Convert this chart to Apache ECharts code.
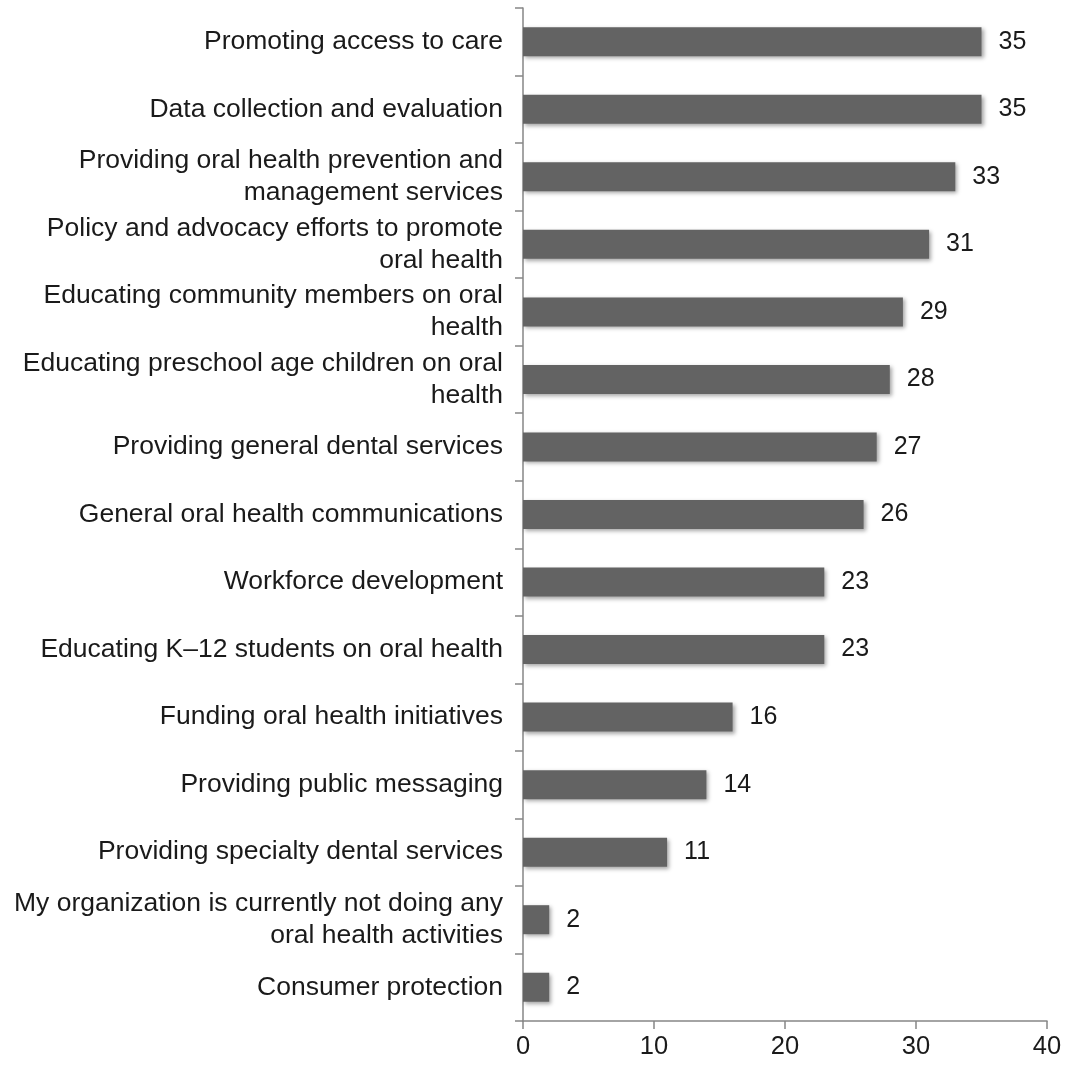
<!DOCTYPE html>
<html>
<head>
<meta charset="utf-8">
<script src="https://cdn.jsdelivr.net/npm/echarts@6/dist/echarts.min.js"></script>
<style>
  html, body { margin: 0; padding: 0; background: #fff; }
  #chart { width: 1067px; height: 1067px; }
</style>
</head>
<body>
<div id="chart"></div>
<script>
// categories, top to bottom
var activities = [
  'Promoting access to care',
  'Data collection and evaluation',
  'Providing oral health prevention and management services',
  'Policy and advocacy efforts to promote oral health',
  'Educating community members on oral health',
  'Educating preschool age children on oral health',
  'Providing general dental services',
  'General oral health communications',
  'Workforce development',
  'Educating K\u201312 students on oral health',
  'Funding oral health initiatives',
  'Providing public messaging',
  'Providing specialty dental services',
  'My organization is currently not doing any oral health activities',
  'Consumer protection'
];
var counts = [35, 35, 33, 31, 29, 28, 27, 26, 23, 23, 16, 14, 11, 2, 2];

var labelFont = '26.5px "Liberation Sans", Arial, sans-serif';
var ctx = document.createElement('canvas').getContext('2d');
ctx.font = labelFont;

// word wrap, no trailing spaces
function wrap(text, maxW) {
  var words = text.split(' ');
  var lines = [];
  var cur = '';
  words.forEach(function (w) {
    var test = cur ? cur + ' ' + w : w;
    if (cur && ctx.measureText(test).width > maxW) {
      lines.push(cur);
      cur = w;
    } else {
      cur = test;
    }
  });
  if (cur) lines.push(cur);
  return lines.join('\n');
}

var myChart = echarts.init(document.getElementById('chart'));
myChart.setOption({
  animation: false,
  textStyle: { fontFamily: '"Liberation Sans", Arial, sans-serif' },
  grid: { left: 523, right: 20, top: 8, bottom: 46, containLabel: false },
  xAxis: {
    type: 'value',
    min: 0,
    max: 40,
    interval: 10,
    splitLine: { show: false },
    axisLine: { show: true, lineStyle: { color: '#868686', width: 1.5 } },
    axisTick: { show: true, length: 8, lineStyle: { color: '#868686', width: 1.5 } },
    axisLabel: { color: '#1a1a1a', fontSize: 25.5, margin: 13 }
  },
  yAxis: {
    type: 'category',
    inverse: true,
    data: activities,
    axisLine: { show: true, lineStyle: { color: '#868686', width: 1.5 } },
    axisTick: { show: true, length: 8, lineStyle: { color: '#868686', width: 1.5 } },
    axisLabel: {
      color: '#1a1a1a',
      fontSize: 26.5,
      margin: 20,
      lineHeight: 32,
      align: 'right',
      formatter: function (v) { return wrap(v, 495); }
    }
  },
  series: [
    {
      type: 'bar',
      data: counts,
      barWidth: 29,
      itemStyle: {
        color: '#636363',
        shadowColor: 'rgba(0,0,0,0.35)',
        shadowBlur: 4,
        shadowOffsetX: 2,
        shadowOffsetY: 2
      },
      label: {
        show: true,
        position: 'right',
        distance: 17,
        color: '#1a1a1a',
        fontSize: 25
      }
    }
  ]
});
</script>
</body>
</html>
